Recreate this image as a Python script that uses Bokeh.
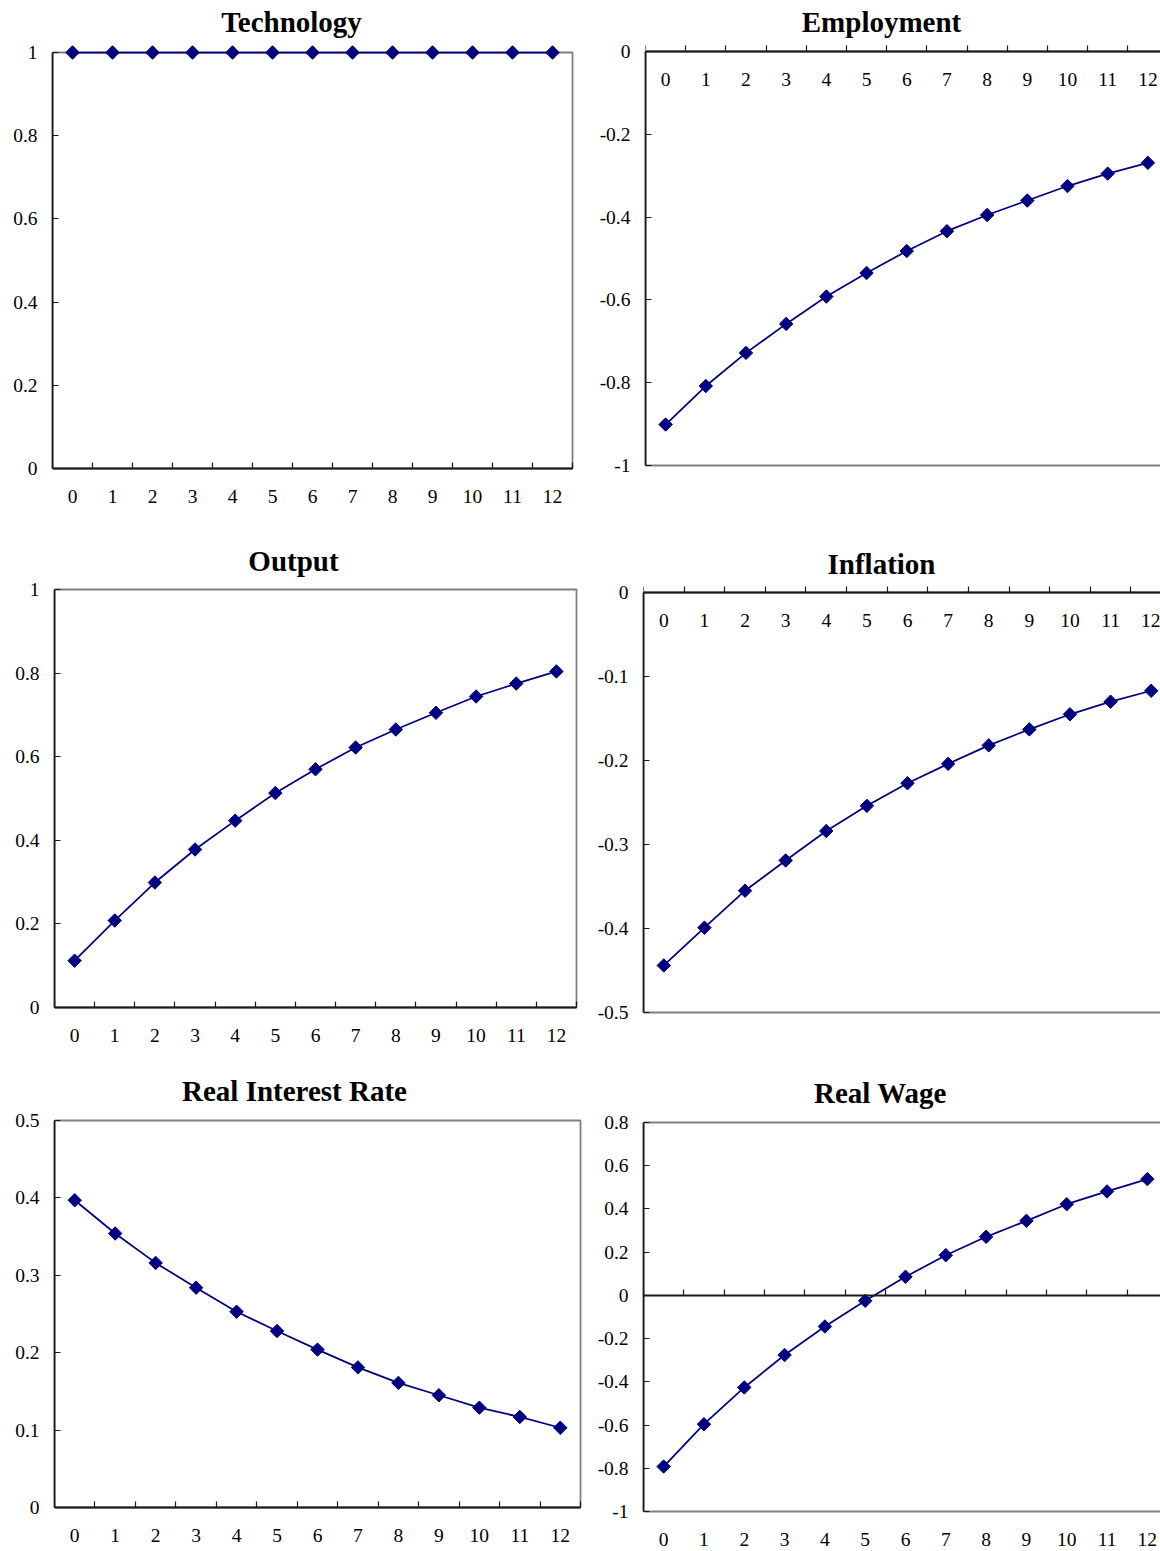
from bokeh.plotting import figure
from bokeh.layouts import column, row
from bokeh.models import Range1d, FixedTicker, LinearAxis, BoxAnnotation, Label, ColumnDataSource
from bokeh.embed import file_html
from bokeh.resources import INLINE

# ---------------- data ----------------
periods = list(range(13))
period_labels = [str(p) for p in periods]

technology = [1.0] * 13
employment = [-0.901, -0.808, -0.728, -0.658, -0.592, -0.535, -0.482, -0.434, -0.395, -0.360, -0.325, -0.295, -0.269]
output = [0.112, 0.208, 0.299, 0.378, 0.447, 0.513, 0.570, 0.622, 0.665, 0.705, 0.744, 0.775, 0.804]
inflation = [-0.444, -0.399, -0.355, -0.319, -0.284, -0.254, -0.227, -0.204, -0.182, -0.163, -0.145, -0.130, -0.117]
real_interest_rate = [0.397, 0.354, 0.316, 0.284, 0.253, 0.228, 0.204, 0.181, 0.161, 0.145, 0.129, 0.117, 0.103]
real_wage = [-0.792, -0.596, -0.426, -0.276, -0.144, -0.025, 0.086, 0.186, 0.271, 0.345, 0.422, 0.481, 0.538]

technology_ticks = [0, 0.2, 0.4, 0.6, 0.8, 1]
employment_ticks = [0, -0.2, -0.4, -0.6, -0.8, -1]
output_ticks = [0, 0.2, 0.4, 0.6, 0.8, 1]
inflation_ticks = [0, -0.1, -0.2, -0.3, -0.4, -0.5]
real_interest_rate_ticks = [0, 0.1, 0.2, 0.3, 0.4, 0.5]
real_wage_ticks = [0.8, 0.6, 0.4, 0.2, 0, -0.2, -0.4, -0.6, -0.8, -1]

titles = ["Technology", "Employment", "Output", "Inflation", "Real Interest Rate", "Real Wage"]

# ---------------- style / layout ----------------
NAVY = "#000080"
GRAY = "#808080"
AXIS = "#1a1a1a"
FONT = "Liberation Serif"
LABEL_SIZE = "19.5px"
TITLE_SIZE = "29px"

# page-pixel geometry of every panel (figure origin, size, plot-area edges, title anchor)
layout_specs = [
    dict(ox=0, oy=0, W=590, H=530, fl=52, nat_w=520, ft=52, fb=468, mode="bottom", tcx=291, tby=21),
    dict(ox=590, oy=0, W=570, H=530, fl=645, nat_w=522.5, ft=51, fb=465, mode="top", tcx=881, tby=21),
    dict(ox=0, oy=530, W=590, H=532, fl=54, nat_w=522, ft=589, fb=1007, mode="bottom", tcx=293, tby=560),
    dict(ox=590, oy=530, W=570, H=532, fl=643, nat_w=528, ft=592, fb=1012, mode="top", tcx=881, tby=563.5),
    dict(ox=0, oy=1062, W=590, H=489, fl=54, nat_w=526, ft=1120, fb=1507, mode="bottom", tcx=294, tby=1090),
    dict(ox=590, oy=1062, W=570, H=489, fl=643, nat_w=524, ft=1122, fb=1511, mode="mid", tcx=880, tby=1092.5),
]
series = [technology, employment, output, inflation, real_interest_rate, real_wage]
ticks = [technology_ticks, employment_ticks, output_ticks, inflation_ticks, real_interest_rate_ticks, real_wage_ticks]

bounds_ticks = [p - 0.5 for p in periods] + [periods[-1] + 0.5]
XLO, XHI = bounds_ticks[0], bounds_ticks[-1]


def fmt(v):
    return f"{v:g}"


def style_x_axis(ax, labels=True):
    ax.ticker = FixedTicker(ticks=periods if labels else [], minor_ticks=bounds_ticks)
    ax.major_label_overrides = {pp: lab for pp, lab in zip(periods, period_labels)}
    ax.major_label_text_font = FONT
    ax.major_label_text_font_size = LABEL_SIZE
    ax.major_label_text_color = "black"
    ax.major_tick_in = 0
    ax.major_tick_out = 0
    ax.minor_tick_in = 6
    ax.minor_tick_out = 0
    ax.minor_tick_line_color = AXIS
    ax.minor_tick_line_width = 1.2
    ax.axis_line_color = AXIS
    ax.axis_line_width = 1.8
    ax.major_label_standoff = 21
    ax.bounds = (XLO, XHI)


def make_panel(title, values, yt, s):
    ylo, yhi = min(yt), max(yt)
    band = s["nat_w"] / len(periods)
    left = s["fl"] - s["ox"]
    frame_w = s["W"] - left
    x_end = XLO + frame_w / band
    upp = (yhi - ylo) / (s["fb"] - s["ft"])  # data units per pixel
    y_end = yhi + (s["ft"] - s["oy"]) * upp
    y_start = ylo - (s["oy"] + s["H"] - s["fb"]) * upp

    p = figure(width=s["W"], height=s["H"], output_backend="svg", toolbar_location=None,
               x_range=Range1d(XLO, x_end), y_range=Range1d(y_start, y_end),
               min_border_left=left, min_border_right=0,
               min_border_top=0, min_border_bottom=0,
               x_axis_location=None)
    p.xgrid.visible = False
    p.ygrid.visible = False
    p.outline_line_color = None
    p.background_fill_color = "white"
    p.border_fill_color = "white"

    # plot area border (gray)
    p.add_layout(BoxAnnotation(left=XLO, right=XHI, bottom=ylo, top=yhi,
                               fill_color=None, fill_alpha=0, line_color=GRAY,
                               line_alpha=1.0, line_dash="solid",
                               line_width=1.8, level="underlay"))

    # y axis
    ya = p.yaxis[0]
    ya.ticker = FixedTicker(ticks=yt)
    ya.major_label_overrides = {v: fmt(v) for v in yt}
    ya.bounds = (ylo, yhi)
    ya.axis_line_color = AXIS
    ya.axis_line_width = 1.8
    ya.major_tick_in = 6
    ya.major_tick_out = 0
    ya.minor_tick_in = 0
    ya.minor_tick_out = 0
    ya.major_tick_line_color = AXIS
    ya.major_tick_line_width = 1.2
    ya.major_label_standoff = 15
    ya.major_label_text_font = FONT
    ya.major_label_text_font_size = LABEL_SIZE
    ya.major_label_text_color = "black"

    # x axis (category axis of the plot area)
    if s["mode"] == "bottom":
        xa = LinearAxis(fixed_location=ylo)
        style_x_axis(xa)
        p.add_layout(xa, "below")
    elif s["mode"] == "top":
        xa = LinearAxis(fixed_location=0)
        style_x_axis(xa)
        p.add_layout(xa, "below")
    else:
        xa0 = LinearAxis(fixed_location=0)
        style_x_axis(xa0, labels=False)
        p.add_layout(xa0, "below")
        xa = LinearAxis(fixed_location=ylo)
        style_x_axis(xa)
        xa.axis_line_color = None
        xa.minor_tick_in = 0
        p.add_layout(xa, "below")

    # data
    src = ColumnDataSource(dict(x=periods, y=values))
    p.line("x", "y", source=src, line_color=NAVY, line_width=1.75)
    p.scatter("x", "y", source=src, marker="square", size=9.5, angle=0.785398,
              fill_color=NAVY, line_color=NAVY, line_width=1)

    # title
    tx = XLO + (s["tcx"] - s["fl"]) / band
    ty = ylo + (s["fb"] - s["tby"]) * upp
    p.add_layout(Label(x=tx, y=ty, text=title, text_align="center", text_baseline="alphabetic",
                       text_font=FONT, text_font_style="bold", text_font_size=TITLE_SIZE,
                       text_color="black"))
    return p


figs = [make_panel(t, v, yt, s) for t, v, yt, s in zip(titles, series, ticks, layout_specs)]
layout = column(row(figs[0], figs[1]), row(figs[2], figs[3]), row(figs[4], figs[5]))

open("out.html", "w").write(file_html(layout, INLINE))
